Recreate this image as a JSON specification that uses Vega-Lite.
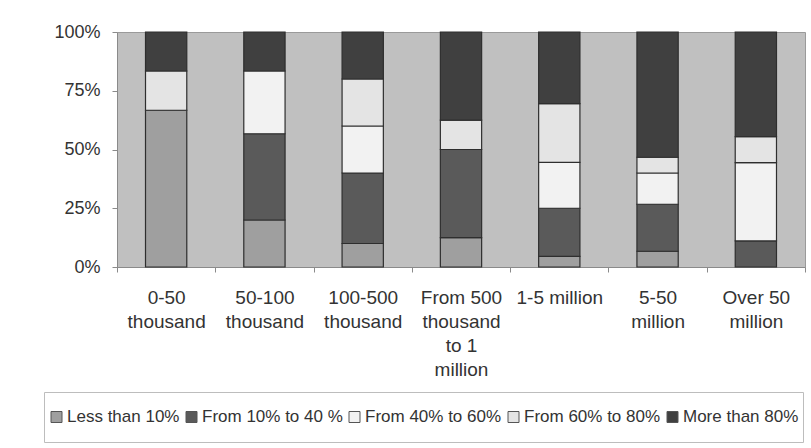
{
  "$schema": "https://vega.github.io/schema/vega-lite/v6.json",
  "width": 688,
  "height": 235,
  "autosize": {"type": "none"},
  "padding": {"left": 117, "top": 32, "right": 6, "bottom": 181},
  "background": "white",
  "config": {
    "font": "Liberation Sans",
    "view": {"fill": "#c0c0c0", "stroke": "#9a9a9a", "strokeWidth": 1},
    "axis": {
      "domainColor": "#8a8a8a",
      "tickColor": "#8a8a8a",
      "labelColor": "#333333",
      "labelFont": "Liberation Sans",
      "labelFontSize": 18,
      "grid": false,
      "title": null
    }
  },
  "data": {
    "values": [
      {"size": "0-50|thousand", "share": "Less than 10%", "rank": 1, "pct": 66.7},
      {"size": "0-50|thousand", "share": "From 60% to 80%", "rank": 4, "pct": 16.7},
      {"size": "0-50|thousand", "share": "More than 80%", "rank": 5, "pct": 16.6},

      {"size": "50-100|thousand", "share": "Less than 10%", "rank": 1, "pct": 20.0},
      {"size": "50-100|thousand", "share": "From 10% to 40 %", "rank": 2, "pct": 36.7},
      {"size": "50-100|thousand", "share": "From 40% to 60%", "rank": 3, "pct": 26.7},
      {"size": "50-100|thousand", "share": "More than 80%", "rank": 5, "pct": 16.6},

      {"size": "100-500|thousand", "share": "Less than 10%", "rank": 1, "pct": 10.0},
      {"size": "100-500|thousand", "share": "From 10% to 40 %", "rank": 2, "pct": 30.0},
      {"size": "100-500|thousand", "share": "From 40% to 60%", "rank": 3, "pct": 20.0},
      {"size": "100-500|thousand", "share": "From 60% to 80%", "rank": 4, "pct": 20.0},
      {"size": "100-500|thousand", "share": "More than 80%", "rank": 5, "pct": 20.0},

      {"size": "From 500|thousand|to 1|million", "share": "Less than 10%", "rank": 1, "pct": 12.5},
      {"size": "From 500|thousand|to 1|million", "share": "From 10% to 40 %", "rank": 2, "pct": 37.5},
      {"size": "From 500|thousand|to 1|million", "share": "From 60% to 80%", "rank": 4, "pct": 12.5},
      {"size": "From 500|thousand|to 1|million", "share": "More than 80%", "rank": 5, "pct": 37.5},

      {"size": "1-5 million", "share": "Less than 10%", "rank": 1, "pct": 4.5},
      {"size": "1-5 million", "share": "From 10% to 40 %", "rank": 2, "pct": 20.5},
      {"size": "1-5 million", "share": "From 40% to 60%", "rank": 3, "pct": 19.5},
      {"size": "1-5 million", "share": "From 60% to 80%", "rank": 4, "pct": 25.0},
      {"size": "1-5 million", "share": "More than 80%", "rank": 5, "pct": 30.5},

      {"size": "5-50|million", "share": "Less than 10%", "rank": 1, "pct": 6.7},
      {"size": "5-50|million", "share": "From 10% to 40 %", "rank": 2, "pct": 20.0},
      {"size": "5-50|million", "share": "From 40% to 60%", "rank": 3, "pct": 13.3},
      {"size": "5-50|million", "share": "From 60% to 80%", "rank": 4, "pct": 6.7},
      {"size": "5-50|million", "share": "More than 80%", "rank": 5, "pct": 53.3},

      {"size": "Over 50|million", "share": "From 10% to 40 %", "rank": 2, "pct": 11.1},
      {"size": "Over 50|million", "share": "From 40% to 60%", "rank": 3, "pct": 33.3},
      {"size": "Over 50|million", "share": "From 60% to 80%", "rank": 4, "pct": 11.1},
      {"size": "Over 50|million", "share": "More than 80%", "rank": 5, "pct": 44.5}
    ]
  },
  "mark": {"type": "bar", "width": {"band": 0.42}, "stroke": "#2e2e2e", "strokeWidth": 1.2},
  "encoding": {
    "x": {
      "field": "size",
      "type": "nominal",
      "sort": null,
      "scale": {"paddingInner": 0, "paddingOuter": 0},
      "axis": {
        "labelAngle": 0,
        "labelExpr": "datum.value ? split(datum.value, '|') : ''",
        "labelLineHeight": 24,
        "labelBaseline": "top",
        "labelPadding": 16,
        "labelFontSize": 19,
        "tickBand": "extent",
        "tickSize": 5,
        "labelLimit": 0
      }
    },
    "y": {
      "field": "pct",
      "type": "quantitative",
      "stack": "normalize",
      "scale": {"domain": [0, 1]},
      "axis": {
        "values": [0, 0.25, 0.5, 0.75, 1],
        "format": ".0%",
        "tickSize": 5,
        "labelPadding": 12
      }
    },
    "order": {"field": "rank", "type": "quantitative"},
    "color": {
      "field": "share",
      "type": "nominal",
      "scale": {
        "domain": ["Less than 10%", "From 10% to 40 %", "From 40% to 60%", "From 60% to 80%", "More than 80%"],
        "range": ["#9f9f9f", "#5a5a5a", "#f2f2f2", "#e4e4e4", "#404040"]
      },
      "legend": {
        "title": null,
        "orient": "none",
        "direction": "horizontal",
        "legendX": -73,
        "legendY": 360,
        "padding": 4,
        "clipHeight": 42,
        "strokeColor": "#bdbdbd",
        "fillColor": "white",
        "symbolType": "square",
        "symbolSize": 121,
        "symbolStrokeColor": "#555555",
        "symbolStrokeWidth": 1,
        "labelFont": "Liberation Sans",
        "labelFontSize": 17,
        "labelColor": "#333333",
        "labelOffset": 2,
        "labelLimit": 0,
        "columnPadding": 3
      }
    }
  }
}
